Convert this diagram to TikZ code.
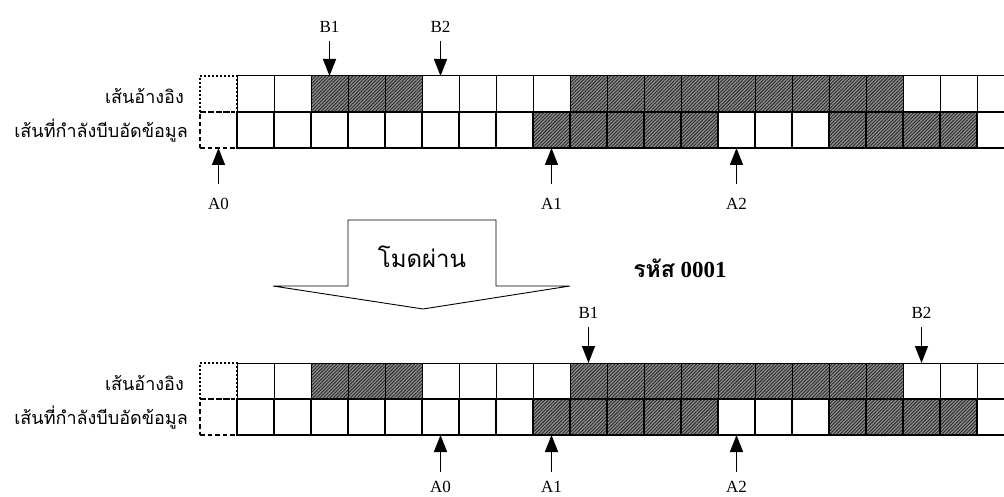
\documentclass[tikz,border=0pt]{standalone}
\usepackage{fontspec}
\setmainfont{Liberation Serif}
\newfontfamily\thai[Script=Thai]{Loma}
\usepackage{xcolor}
\definecolor{cShade}{HTML}{8C8C8C}
\definecolor{cHatch}{HTML}{2A2A2A}
\usetikzlibrary{positioning,arrows.meta,patterns.meta}
\tikzset{
  cell-ref/.style={draw=black,line width=1pt,minimum width=37pt,
    minimum height=36pt,inner sep=0pt,outer sep=0pt,anchor=north west},
  cell-cmp/.style={cell-ref,line width=2pt},
  cell-shade/.style={preaction={fill=cShade},
    pattern={Lines[angle=45,distance=2.4pt,line width=0.9pt]},pattern color=cHatch},
  cell-s0/.style={},
  cell-s1/.style={cell-shade},
  cell-dot/.style={cell-ref,dash pattern=on 2pt off 2pt,line width=1.2pt},
  cell-dash/.style={cell-cmp,dash pattern=on 4.5pt off 3pt},
  label-row/.style={font=\thai\fontsize{18}{18}\selectfont,inner sep=0pt},
  label-ptr/.style={font=\fontsize{17}{17}\selectfont,inner sep=2pt},
  arrow-down/.style={-{Triangle[length=17pt,width=13pt]},line width=1.5pt,shorten <=6pt},
  arrow-up/.style={arrow-down,shorten <=12pt},
  block-arrow/.style={draw=black,line width=0.9pt,line join=miter},
}
% one pair of lines: #1 prefix, #2 top edge
\newcommand\drawlines[2]{%
  \node[cell-dot] (#1ref-d) at (200,#2) {};
  \foreach \i in {0,...,20}{
    \pgfmathtruncatemacro\sref{(\i>=2 && \i<=4) || (\i>=9 && \i<=17)}
    \node[cell-ref,cell-s\sref] (#1ref-\i) at ({237+37*\i},#2) {};
  }
  \node[cell-dash] (#1cmp-d) at (200,#2+36) {};
  \foreach \i in {0,...,20}{
    \pgfmathtruncatemacro\scmp{(\i>=8 && \i<=12) || (\i>=16 && \i<=19)}
    \node[cell-cmp,cell-s\scmp] (#1cmp-\i) at ({237+37*\i},#2+36) {};
  }
  \node[label-row,left=16pt of #1ref-d,yshift=-2pt] (#1ref-lab) {เส้นอ้างอิง};
  \node[label-row,left=12pt of #1cmp-d,yshift=-1pt] (#1cmp-lab) {เส้นที่กำลังบีบอัดข้อมูล};
}

\begin{document}
\begin{tikzpicture}[x=1pt,y=-1pt]
  \useasboundingbox (0,0) rectangle (1004,497);
  \clip (0,0) rectangle (1004,497);

  % before
  \drawlines{t}{76}
  \node[label-ptr] (tb1) at (329.5,27) {B1};
  \node[label-ptr] (tb2) at (440.5,27) {B2};
  \draw[arrow-down] (tb1) -- (tref-2.north);
  \draw[arrow-down] (tb2) -- (tref-5.north);
  \node[label-ptr] (ta0) at (218.5,204) {A0};
  \node[label-ptr] (ta1) at (551.5,204) {A1};
  \node[label-ptr] (ta2) at (736.5,204) {A2};
  \draw[arrow-up] (ta0) -- (tcmp-d.south);
  \draw[arrow-up] (ta1) -- (tcmp-8.south);
  \draw[arrow-up] (ta2) -- (tcmp-13.south);

  % mode
  \draw[block-arrow] (348,220) -- (496,220) -- (496,286) -- (570,286)
    -- (423,309) -- (273,286) -- (348,286) -- cycle;
  \node[font=\thai\fontsize{24}{24}\selectfont] (mode) at (422,257) {โมดผ่าน};
  \node[font=\fontsize{23}{23}\selectfont\bfseries] (code) at (680,268)
    {{\thai รหัส} 0001};

  % after
  \drawlines{b}{363}
  \node[label-ptr] (bb1) at (588.5,313) {B1};
  \node[label-ptr] (bb2) at (921.5,313) {B2};
  \draw[arrow-down] (bb1) -- (bref-9.north);
  \draw[arrow-down] (bb2) -- (bref-18.north);
  \node[label-ptr] (ba0) at (440.5,487) {A0};
  \node[label-ptr] (ba1) at (551.5,487) {A1};
  \node[label-ptr] (ba2) at (736.5,487) {A2};
  \draw[arrow-up,shorten <=7pt] (ba0) -- (bcmp-5.south);
  \draw[arrow-up,shorten <=7pt] (ba1) -- (bcmp-8.south);
  \draw[arrow-up,shorten <=7pt] (ba2) -- (bcmp-13.south);
\end{tikzpicture}
\end{document}
